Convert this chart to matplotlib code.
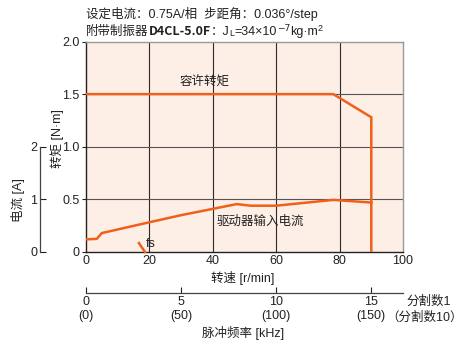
import numpy as np
import matplotlib
matplotlib.use("Agg")
import matplotlib.pyplot as plt
from matplotlib import font_manager as fm

# ---- data ----
speed_ticks = [0, 20, 40, 60, 80, 100]
torque_ticks = [0, 0.5, 1.0, 1.5, 2.0]
torque_tick_labels = ["0", "0.5", "1.0", "1.5", "2.0"]
current_ticks = [0, 1, 2]
pulse_ticks = [0, 5, 10, 15]
pulse_tick_labels = ["0\n(0)", "5\n(50)", "10\n(100)", "15\n(150)"]

# permissible torque curve [r/min] -> [N·m]
torque_speed = [0, 78, 84, 90, 90]
torque_value = [1.5, 1.5, 1.39, 1.28, 0.0]

# driver input current [r/min] -> [A]
current_speed = [0, 3.4, 5, 20, 30, 47.5, 52, 60, 78, 90]
current_value = [0.24, 0.25, 0.36, 0.565, 0.70, 0.91, 0.88, 0.88, 0.99, 0.94]

# start frequency marker
fs_speed = [16.7, 18.6]
fs_torque = [0.085, 0.0]

W, H = 465, 341
ORANGE = "#F0601A"
BG = "#FDEEE6"
INK = "#222222"
FS = 9

names = {f.name for f in fm.fontManager.ttflist}
latin = "Liberation Sans Narrow" if "Liberation Sans Narrow" in names else "Liberation Sans"
plt.rcParams["font.family"] = [latin, "Noto Sans CJK SC", "DejaVu Sans"]
plt.rcParams["font.size"] = FS
plt.rcParams["axes.unicode_minus"] = False

fig = plt.figure(figsize=(W / 100, H / 100), dpi=100)
left, right, top, bottom = 86, 403, 41.5, 252
ax = fig.add_axes([left / W, 1 - bottom / H, (right - left) / W, (bottom - top) / H])
ax.set_facecolor(BG)
ax.set_xlim(0, 100)
ax.set_ylim(0, 2)

for s in speed_ticks[1:-1]:
    ax.axvline(s, color="#2a2a2a", lw=0.8, zorder=1)
for t in torque_ticks[1:-1]:
    ax.axhline(t, color="#555555", lw=0.8, zorder=1)

for sp in ["left", "bottom"]:
    ax.spines[sp].set_color(INK)
    ax.spines[sp].set_linewidth(1.0)
for sp in ["top", "right"]:
    ax.spines[sp].set_color("#999999")
    ax.spines[sp].set_linewidth(1.0)

ax.set_xticks(speed_ticks)
ax.set_xticklabels([str(s) for s in speed_ticks])
ax.tick_params(axis="x", length=0, pad=2.5, labelsize=FS, colors=INK)
ax.set_yticks(torque_ticks)
ax.set_yticklabels(torque_tick_labels)
ax.tick_params(axis="y", length=3, width=0.8, pad=1.5, labelsize=FS, colors=INK)

ax.plot(torque_speed, torque_value, color=ORANGE, lw=1.8, zorder=3, solid_joinstyle="miter")
ax.plot(fs_speed, fs_torque, color=ORANGE, lw=1.8, zorder=3, clip_on=False)

ax.text(37.5, 1.61, "容许转矩", ha="center", va="center", fontsize=FS, color=INK)
ax.text(55, 0.29, "驱动器输入电流", ha="center", va="center", fontsize=FS, color=INK,
        zorder=4)
ax.text(18.9, 0.076, "fs", ha="left", va="center", fontsize=FS, color=INK, zorder=4)

# current axis on the far left
axc = ax.twinx()
axc.set_ylim(0, 4)
axc.patch.set_visible(False)
for sp in ["right", "top", "bottom"]:
    axc.spines[sp].set_visible(False)
axc.spines["left"].set_visible(True)
axc.spines["left"].set_position(("outward", (left - 40) * 0.72))
axc.spines["left"].set_bounds(0, 2)
axc.spines["left"].set_color("#444444")
axc.spines["left"].set_linewidth(0.9)
axc.yaxis.set_ticks_position("left")
axc.set_yticks(current_ticks)
axc.set_yticklabels([str(c) for c in current_ticks])
axc.tick_params(axis="y", direction="in", length=4, width=0.8, pad=2, labelsize=FS,
                colors=INK)
axc.plot(current_speed, current_value, color=ORANGE, lw=1.8, zorder=3)

# pulse frequency axis below
sec = ax.secondary_xaxis(-(293 - bottom) / (bottom - top),
                         functions=(lambda s: s / 6.0, lambda f: f * 6.0))
sec.set_xticks(pulse_ticks)
sec.set_xticklabels(pulse_tick_labels)
sec.tick_params(axis="x", direction="in", length=4, width=0.8, pad=2, labelsize=FS,
                colors=INK)
sec.spines["bottom"].set_color("#444444")
sec.spines["bottom"].set_linewidth(0.9)

def ftext(x, y, s, **kw):
    return fig.text(x / W, 1 - y / H, s, **kw)

ftext(243, 278, "转速 [r/min]", ha="center", va="center", color=INK)
ftext(243, 333, "脉冲频率 [kHz]", ha="center", va="center", color=INK)
ftext(429, 302, "分割数1", ha="center", va="center", color=INK)
ftext(463, 318, "（分割数10）", ha="right", va="center", color=INK)
ftext(57, 139, "转矩 [N·m]", ha="center", va="center", rotation=90, color=INK)
ftext(18, 200, "电流 [A]", ha="center", va="center", rotation=90, color=INK)

# header lines
renderer = fig.canvas.get_renderer()
ftext(86, 18, "设定电流：0.75A/相  步距角：0.036°/step", ha="left", va="baseline",
      color=INK)

runs = [
    ("附带制振器", {}, 0),
    ("D4CL-5.0F", {"fontweight": "bold", "family": ["Noto Sans CJK SC"]}, 0),
    ("：J", {}, 0),
    ("L", {"fontsize": 6.5}, -1),
    ("=34×10", {}, 0),
    ("−7", {"fontsize": 6.5, "family": ["DejaVu Sans"]}, 4),
    ("kg·m", {}, 0),
    ("2", {"fontsize": 6.5}, 4),
]
x = 86
for s, kw, dy in runs:
    t = ftext(x, 35 - dy, s, ha="left", va="baseline", color=INK, **kw)
    x += t.get_window_extent(renderer).width

fig.savefig("out.png", dpi=100)
